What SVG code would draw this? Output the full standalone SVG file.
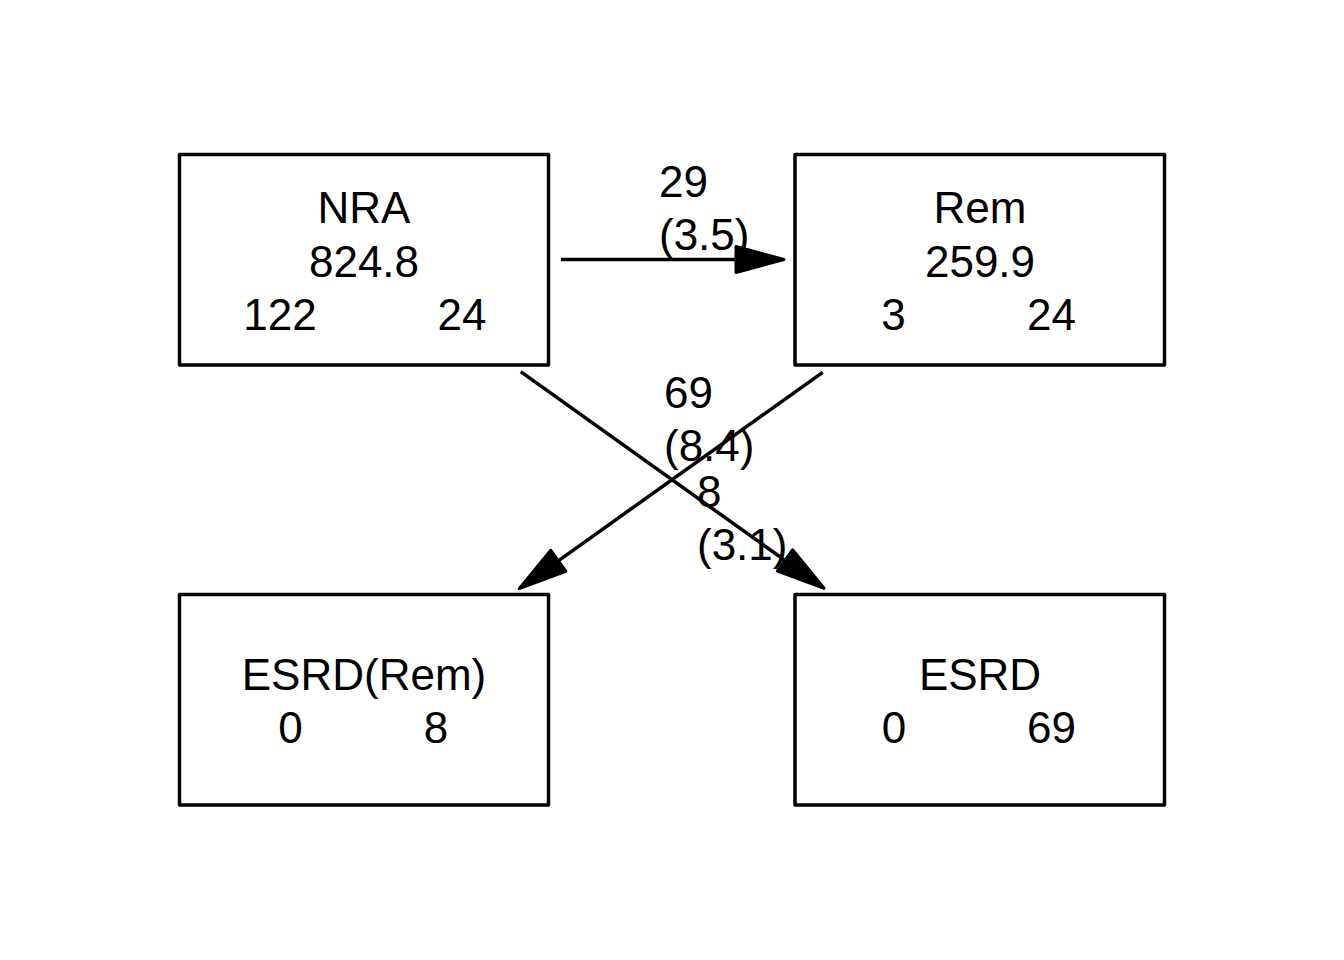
<svg xmlns="http://www.w3.org/2000/svg" width="1344" height="960" viewBox="0 0 1344 960">
<style>
.box{fill:#ffffff;stroke:#000000;stroke-width:3.5;stroke-linejoin:round}
.t{font-family:"Liberation Sans",Arial,Helvetica,sans-serif;font-size:44px;fill:#000000}
.c{text-anchor:middle}
.edge{stroke:#000000;stroke-width:3.5;fill:none}
</style>
<defs>
<marker id="arr" markerUnits="userSpaceOnUse" orient="auto" refX="0" refY="0" markerWidth="60" markerHeight="40" viewBox="-4 -20 60 40" overflow="visible">
<path d="M0,-13 L48,0 L0,13 Z" fill="#000000" stroke="#000000" stroke-width="3" stroke-linejoin="round"/>
</marker>
</defs>
<rect width="1344" height="960" fill="#ffffff"/>
<g id="connectors">
<line class="edge" x1="561" y1="259.5" x2="736" y2="259.5" marker-end="url(#arr)"/>
<line class="edge" x1="520.7" y1="371.7" x2="785" y2="560.4" marker-end="url(#arr)"/>
<line class="edge" x1="822.7" y1="372.3" x2="558.3" y2="560.8" marker-end="url(#arr)"/>
<text class="t" x="659" y="197">29</text>
<text class="t" x="659" y="250">(3.5)</text>
<text class="t" x="664" y="408">69</text>
<text class="t" x="664" y="461">(8.4)</text>
<text class="t" x="697" y="507">8</text>
<text class="t" x="697" y="560">(3.1)</text>
</g>
<g id="NRA">
<rect class="box" x="179.5" y="154.5" width="369" height="210.5"/>
<text class="t c" x="364" y="223">NRA</text>
<text class="t c" x="364" y="277">824.8</text>
<text class="t c" x="280" y="330">122</text>
<text class="t c" x="462" y="330">24</text>
</g>
<g id="Rem">
<rect class="box" x="795" y="154.5" width="369.5" height="210.5"/>
<text class="t c" x="980" y="223">Rem</text>
<text class="t c" x="980" y="277">259.9</text>
<text class="t c" x="893.5" y="330">3</text>
<text class="t c" x="1051.5" y="330">24</text>
</g>
<g id="ESRDRem">
<rect class="box" x="179.5" y="594.5" width="369" height="210.5"/>
<text class="t c" x="364" y="690">ESRD(Rem)</text>
<text class="t c" x="290.5" y="743">0</text>
<text class="t c" x="436" y="743">8</text>
</g>
<g id="ESRD">
<rect class="box" x="795" y="594.5" width="369.5" height="210.5"/>
<text class="t c" x="980" y="690">ESRD</text>
<text class="t c" x="894" y="743">0</text>
<text class="t c" x="1051.5" y="743">69</text>
</g>
</svg>
